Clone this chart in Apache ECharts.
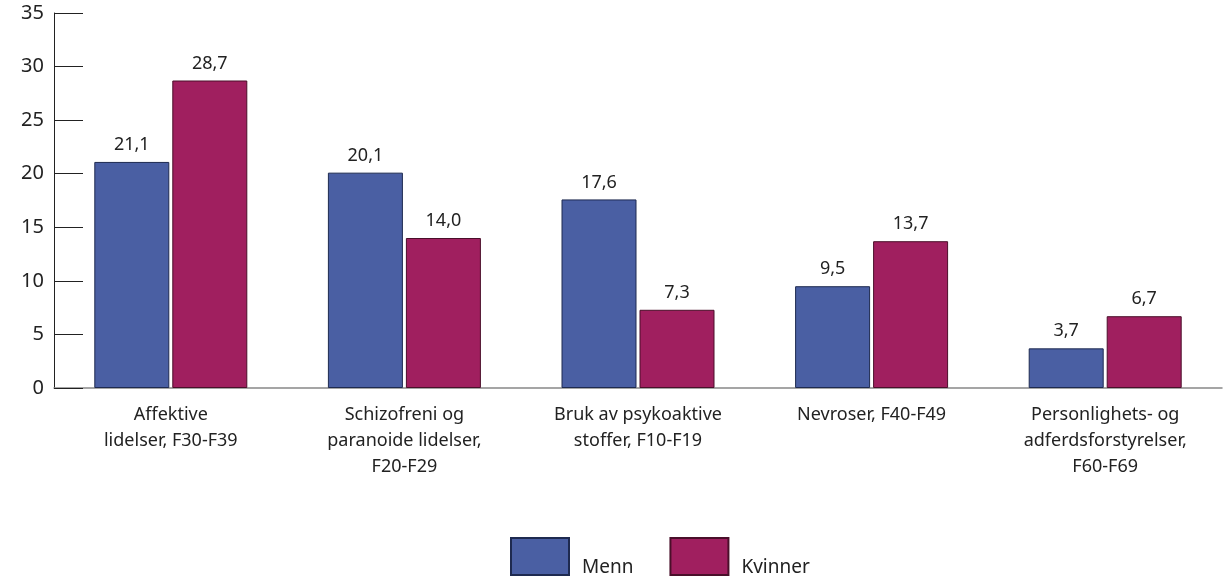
<!DOCTYPE html>
<html>
<head>
<meta charset="utf-8">
<script src="https://cdn.jsdelivr.net/npm/echarts@6/dist/echarts.min.js"></script>
<style>
  html, body { margin: 0; padding: 0; background: #fff; }
  #chart { width: 1230px; height: 580px; }
</style>
</head>
<body>
<div id="chart"></div>
<script>
const categories = [
  'Affektive\nlidelser, F30-F39',
  'Schizofreni og\nparanoide lidelser,\nF20-F29',
  'Bruk av psykoaktive\nstoffer, F10-F19',
  'Nevroser, F40-F49',
  'Personlighets- og\nadferdsforstyrelser,\nF60-F69'
]
const menn = [21.1, 20.1, 17.6, 9.5, 3.7]
const kvinner = [28.7, 14.0, 7.3, 13.7, 6.7]

const chart = echarts.init(document.getElementById('chart'))

const fmt = p => p.value.toFixed(1).replace('.', ',')
const font = '"Noto Sans", sans-serif'

const option = {
  animation: false,
  textStyle: { fontFamily: font },
  grid: { left: 54, right: 8, top: 13, bottom: 192 },
  legend: {
    top: 532,
    left: 505,
    icon: 'rect',
    itemWidth: 58,
    itemHeight: 37,
    itemGap: 36,
    formatter: name => '{t|' + name + '}',
    textStyle: {
      fontSize: 19,
      color: '#222',
      fontFamily: font,
      rich: { t: { fontSize: 19, color: '#222', fontFamily: font, padding: [22, 0, 0, 8] } }
    },
    data: ['Menn', 'Kvinner']
  },
  xAxis: {
    type: 'category',
    data: categories,
    axisLine: { lineStyle: { color: '#888', width: 1.5 } },
    axisTick: { inside: true, length: 8, lineStyle: { color: '#888' } },
    axisLabel: { fontSize: 18, color: '#222', lineHeight: 26, margin: 14, interval: 0 }
  },
  yAxis: {
    type: 'value',
    min: 0,
    max: 35,
    interval: 5,
    axisLine: { show: true, lineStyle: { color: '#222', width: 1 } },
    axisTick: { show: true, inside: true, length: 29, lineStyle: { color: '#222' } },
    axisLabel: { fontSize: 20, color: '#222', margin: 10 },
    splitLine: { show: false }
  },
  series: [
    {
      name: 'Menn',
      type: 'bar',
      data: menn,
      barWidth: 75,
      barGap: '4%',
      itemStyle: { color: '#4a5fa3', borderColor: '#1e2a50', borderWidth: 1 },
      label: { show: true, position: 'top', distance: 8, fontSize: 18, color: '#222', formatter: fmt }
    },
    {
      name: 'Kvinner',
      type: 'bar',
      data: kvinner,
      barWidth: 75,
      itemStyle: { color: '#a01f5f', borderColor: '#4a0f2a', borderWidth: 1 },
      label: { show: true, position: 'top', distance: 8, fontSize: 18, color: '#222', formatter: fmt }
    }
  ]
}

chart.setOption(option)
</script>
</body>
</html>
